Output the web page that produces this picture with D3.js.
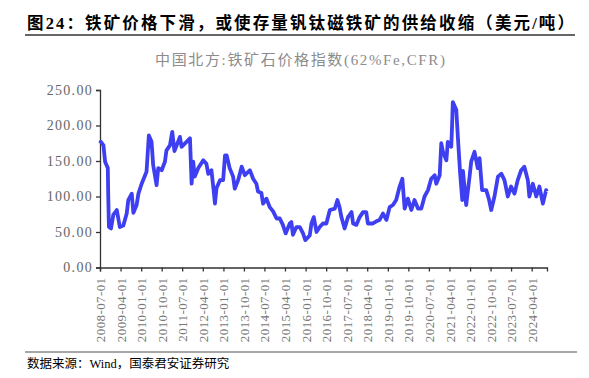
<!DOCTYPE html>
<html>
<head>
<meta charset="utf-8">
<script src="https://cdn.jsdelivr.net/npm/d3@7"></script>
<style>
  body { margin: 0; background: #fff; }
  svg { display: block; }
</style>
</head>
<body>
<div id="chart-area"></div>
<script>
// dates / values (USD per tonne)
var dates = [
  "2008-07-01","2008-07-13","2008-08-16","2008-09-07","2008-10-13","2008-10-19","2008-10-28","2008-11-25","2008-12-25",
  "2009-02-10","2009-03-22","2009-05-07","2009-06-22","2009-07-13","2009-08-28","2009-09-19","2009-11-01","2009-11-25",
  "2010-01-07","2010-02-22","2010-03-13","2010-04-13","2010-05-19","2010-06-10","2010-07-25","2010-08-16","2010-10-01",
  "2010-11-13","2010-12-04","2011-01-19","2011-02-19","2011-03-20","2011-06-01","2011-06-22","2011-08-28","2011-10-13",
  "2011-11-04","2011-11-25","2011-12-16","2012-02-01","2012-04-07","2012-05-19","2012-06-13","2012-07-25","2012-08-16",
  "2012-09-10","2012-10-01","2012-11-16","2012-12-28","2013-01-22","2013-02-13","2013-03-25","2013-05-10","2013-06-01",
  "2013-07-16","2013-09-01","2013-10-13","2013-12-19","2014-02-01","2014-03-16","2014-04-07","2014-05-22","2014-06-13",
  "2014-07-28","2014-09-10","2014-10-25","2014-12-10","2015-01-22","2015-03-04","2015-04-10","2015-06-04","2015-06-25",
  "2015-07-16","2015-09-01","2015-10-16","2015-11-28","2015-12-28","2016-02-25","2016-03-19","2016-04-19","2016-05-25",
  "2016-07-07","2016-08-19","2016-10-04","2016-11-19","2017-01-25","2017-02-28","2017-03-28","2017-04-22","2017-06-04",
  "2017-07-19","2017-09-04","2017-09-25","2017-11-07","2017-12-22","2018-02-04","2018-03-19","2018-04-10","2018-06-16",
  "2018-08-01","2018-09-13","2018-10-28","2018-12-13","2019-01-25","2019-03-10","2019-04-22","2019-06-07","2019-07-13",
  "2019-08-13","2019-09-25","2019-11-10","2019-12-22","2020-02-07","2020-03-22","2020-05-04","2020-06-19","2020-08-01",
  "2020-09-16","2020-10-07","2020-11-22","2020-12-13","2021-01-04","2021-02-19","2021-03-10","2021-04-25","2021-05-04",
  "2021-05-16","2021-07-01","2021-07-22","2021-08-22","2021-09-19","2021-09-28","2021-11-10","2021-12-25","2022-01-16",
  "2022-03-01","2022-04-13","2022-05-07","2022-06-10","2022-08-04","2022-09-07","2022-10-10","2022-11-22","2023-01-07",
  "2023-02-22","2023-04-04","2023-05-19","2023-07-01","2023-08-16","2023-09-28","2023-11-13","2023-12-25","2024-02-10",
  "2024-03-01","2024-04-16","2024-06-01","2024-07-13","2024-08-28","2024-10-10","2024-10-19"
];
var values = [
  175,177,172,149,140,100,57,55,74,
  81,57,59,76,95,104,77,88,104,
  118,130,135,186,177,144,116,140,137,
  149,165,172,191,164,184,170,177,182,
  118,149,128,140,151,146,132,137,116,
  90,112,123,123,158,158,140,128,111,
  123,142,130,137,125,118,107,105,90,
  97,85,79,69,69,60,48,62,64,
  46,57,57,48,38.5,45,62,71,50,
  57,62,62,81,83,95,85,71,55,
  71,78,62,60,71,78,78,62,62,
  65,67,76,67,85,88,95,114,125,
  83,97,81,95,83,83,100,109,125,
  130,118,130,175,163,151,177,170,194,
  233,222,184,132,95,136,88,128,149,
  163,140,154,109,109,97,81,100,128,
  132,123,100,114,104,123,137,142,123,
  100,118,100,114,90,109,107
];
var yTicks = [0, 50, 100, 150, 200, 250];
var xTickLabels = [
  "2008-07-01","2009-04-01","2010-01-01","2010-10-01","2011-07-01","2012-04-01","2013-01-01","2013-10-01",
  "2014-07-01","2015-04-01","2016-01-01","2016-10-01","2017-07-01","2018-04-01","2019-01-01","2019-10-01",
  "2020-07-01","2021-04-01","2022-01-01","2022-10-01","2023-07-01","2024-04-01"
];

var parse = d3.timeParse("%Y-%m-%d");
var data = dates.map((d, i) => ({date: parse(d), value: values[i]}));

var svg = d3.select("#chart-area").append("svg")
  .attr("width", 589)
  .attr("height", 378);

var serif = "'Liberation Serif','Times New Roman','Noto Sans CJK SC',serif";

// title + rule
svg.append("text")
  .attr("x", 27).attr("y", 29)
  .attr("font-family", serif)
  .attr("font-size", 16.5).attr("font-weight", "bold")
  .attr("fill", "#000")
  .attr("textLength", 547).attr("lengthAdjust", "spacing")
  .text("图24：铁矿价格下滑，或使存量钒钛磁铁矿的供给收缩（美元/吨）");
svg.append("line")
  .attr("x1", 25).attr("x2", 575).attr("y1", 35).attr("y2", 35)
  .attr("stroke", "#333").attr("stroke-width", 1.3);

svg.append("text")
  .attr("x", 300).attr("y", 65)
  .attr("text-anchor", "middle")
  .attr("font-family", serif)
  .attr("font-size", 15)
  .attr("fill", "#8c8c8c")
  .attr("textLength", 290).attr("lengthAdjust", "spacing")
  .text("中国北方:铁矿石价格指数(62%Fe,CFR)");

var x = d3.scaleTime()
  .domain([parse("2008-07-01"), parse("2024-10-22")])
  .range([100, 547]);
var y = d3.scaleLinear()
  .domain([0, 250])
  .range([267.5, 90]);

// y axis
var yAxis = svg.append("g")
  .attr("transform", "translate(100,0)")
  .call(d3.axisLeft(y).tickValues(yTicks).tickSize(4).tickPadding(3).tickFormat(d3.format(".2f")));
yAxis.selectAll("text")
  .attr("font-family", serif).attr("font-size", 14)
  .attr("letter-spacing", 1.3)
  .attr("fill", "#666");

// x axis
var xAxis = svg.append("g")
  .attr("transform", "translate(0,267.5)")
  .call(d3.axisBottom(x).tickValues(xTickLabels.map(parse)).tickSize(4).tickFormat(d3.timeFormat("%Y-%m-%d")));
xAxis.selectAll("text")
  .attr("font-family", serif).attr("font-size", 13)
  .attr("letter-spacing", 0.4)
  .attr("fill", "#777")
  .attr("text-anchor", "end")
  .attr("transform", "rotate(-90)")
  .attr("x", -10).attr("y", 0).attr("dy", "0.35em");

svg.selectAll(".domain, .tick line").attr("stroke", "#333").attr("stroke-width", 1.3);

var line = d3.line()
  .x((d) => x(d.date))
  .y((d) => y(d.value));

svg.append("path")
  .datum(data)
  .attr("d", line)
  .attr("fill", "none")
  .attr("stroke", "#3F3FF2")
  .attr("stroke-width", 3.8)
  .attr("stroke-linejoin", "round");

// footer
svg.append("line")
  .attr("x1", 25).attr("x2", 577).attr("y1", 352).attr("y2", 352)
  .attr("stroke", "#888").attr("stroke-width", 1.5);
svg.append("text")
  .attr("x", 27).attr("y", 368)
  .attr("font-family", serif)
  .attr("font-size", 12.5)
  .attr("fill", "#000")
  .text("数据来源：Wind，国泰君安证券研究");
</script>
</body>
</html>
